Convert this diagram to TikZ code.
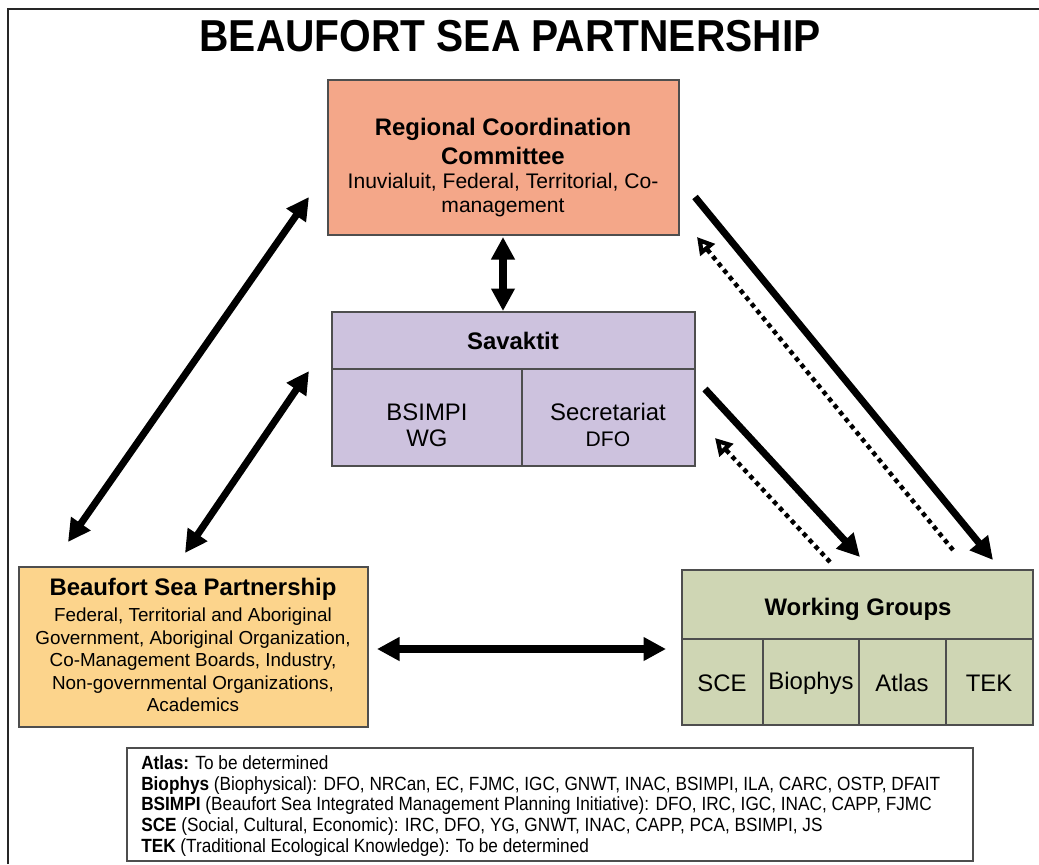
\documentclass[tikz,border=0pt]{standalone}
\usepackage{fontspec}
\setmainfont{Liberation Sans}
\newfontfamily\titlefont[FakeStretch=0.91]{Liberation Sans}
\newfontfamily\keyfont[FakeStretch=0.9]{Liberation Sans}
\usetikzlibrary{arrows.meta}
\definecolor{rccfill}{RGB}{244,167,137}
\definecolor{savfill}{RGB}{205,194,222}
\definecolor{bspfill}{RGB}{252,212,140}
\definecolor{wgfill}{RGB}{207,214,180}
\definecolor{boxline}{RGB}{78,78,78}
\begin{document}
\begin{tikzpicture}[x=0.025cm,y=-0.025cm,line join=miter,
	box/.style={draw=boxline,line width=1.4pt},
	big/.style={align=center,inner sep=0pt,font=\fontsize{17}{20.6}\selectfont},
	small/.style={align=center,inner sep=0pt,font=\fontsize{15}{17}\selectfont},
	link/.style={line width=5pt,{Triangle[length=16pt,width=16pt]}-{Triangle[length=16pt,width=16pt]}},
	oneway/.style={line width=5pt,-{Triangle[length=16pt,width=16pt]}},
	back/.style={line width=3.2pt,dash pattern=on 3.2pt off 3pt,-{Triangle[open,length=12pt,width=13pt]}}]
	\useasboundingbox (0,0) rectangle (1039,864);
	\draw[line width=1.4pt,black!85] (8,864)--(8,9)--(1039,9);
	\node[inner sep=0pt,font=\titlefont\bfseries\fontsize{31.8}{34}\selectfont] (title) at (510,36) {BEAUFORT SEA PARTNERSHIP};
	% boxes
	\draw[box,fill=rccfill] (328,80) rectangle (679,235);
	\draw[box,fill=savfill] (332,312) rectangle (695,466);
	\draw[box] (332,369)--(695,369) (522,369)--(522,466);
	\draw[box,fill=bspfill] (19,567) rectangle (368,727);
	\draw[box,fill=wgfill] (682,570) rectangle (1033,725);
	\draw[box] (682,639)--(1033,639);
	\foreach \x in {763,859,946} \draw[box] (\x,639)--(\x,725);
	% texts
	\node[big,font=\bfseries\fontsize{17}{20.6}\selectfont] (rcc) at (503,141) {Regional Coordination\\Committee};
	\node[small] (rccsub) at (503,195) {Inuvialuit, Federal, Territorial, Co-\\management};
	\node[big,font=\bfseries\fontsize{17}{20.6}\selectfont] (sav) at (513,341) {Savaktit};
	\node[big,font=\fontsize{17}{18.5}\selectfont] (bsimpi) at (427,425) {BSIMPI\\WG};
	\node[big] (secr) at (608,412) {Secretariat};
	\node[small] (dfo) at (608,439) {DFO};
	\node[big,font=\bfseries\fontsize{17}{20}\selectfont] (bsp) at (193,589) {Beaufort Sea Partnership};
	\node[small,font=\fontsize{13.4}{16}\selectfont] (bspsub) at (193,660) {Federal, Territorial and Aboriginal\\Government, Aboriginal Organization,\\Co-Management Boards, Industry,\\Non-governmental Organizations,\\Academics};
	\node[big,font=\bfseries\fontsize{17}{20}\selectfont] (wg) at (858,609) {Working Groups};
	\foreach \x/\lbl [count=\i] in {722/SCE,811/Biophys,902/Atlas,989/TEK}
		\node[big] (wg\i) at (\x,683) {\lbl};
	% key
	\draw[box] (127,748) rectangle (973,861);
	\node[anchor=west,align=left,inner sep=0pt,font=\keyfont\fontsize{13.6}{14.9}\selectfont] (key) at (141,806) {%
		\textbf{Atlas:} To be determined\\
		\textbf{Biophys} (Biophysical): DFO, NRCan, EC, FJMC, IGC, GNWT, INAC, BSIMPI, ILA, CARC, OSTP, DFAIT\\
		\textbf{BSIMPI} (Beaufort Sea Integrated Management Planning Initiative): DFO, IRC, IGC, INAC, CAPP, FJMC\\
		\textbf{SCE} (Social, Cultural, Economic): IRC, DFO, YG, GNWT, INAC, CAPP, PCA, BSIMPI, JS\\
		\textbf{TEK} (Traditional Ecological Knowledge): To be determined};
	% arrow ends
	\coordinate (rccS) at (503,237); \coordinate (savN) at (503,311);
	\coordinate (bspW) at (377,649); \coordinate (wgW) at (666,649);
	\coordinate (l1a) at (68,542); \coordinate (l1b) at (309,197);
	\coordinate (l2a) at (185,553); \coordinate (l2b) at (309,371);
	\coordinate (r1a) at (695,197); \coordinate (r1b) at (993,560);
	\coordinate (r2a) at (705,389); \coordinate (r2b) at (860,557);
	\coordinate (d1a) at (953,550); \coordinate (d1b) at (697,237);
	\coordinate (d2a) at (830,562); \coordinate (d2b) at (715,438);
	\draw[link] (rccS)--(savN);
	\draw[link] (bspW)--(wgW);
	\draw[link] (l1a)--(l1b);
	\draw[link] (l2a)--(l2b);
	\draw[oneway] (r1a)--(r1b);
	\draw[oneway] (r2a)--(r2b);
	\draw[back] (d1a)--(d1b);
	\draw[back] (d2a)--(d2b);
\end{tikzpicture}
\end{document}
